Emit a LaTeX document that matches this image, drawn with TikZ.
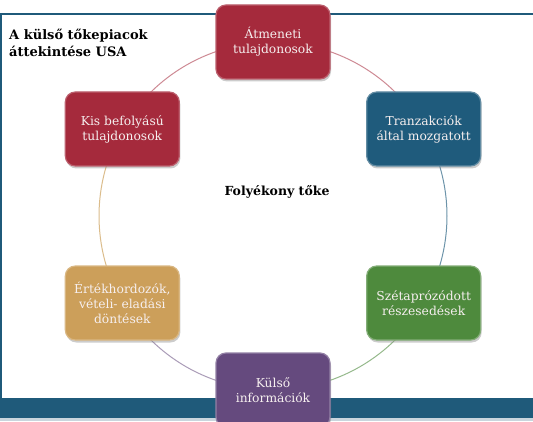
\documentclass[tikz,border=0pt]{standalone}
\usepackage{fontspec}
\setmainfont{DejaVu Serif}
\usetikzlibrary{shadows,calc}
\definecolor{frameblue}{HTML}{1F5A7A}
\definecolor{stripc}{HTML}{C9D5DD}
\definecolor{cred}{HTML}{A52A3C}
\definecolor{cblue}{HTML}{1F5B7C}
\definecolor{cgreen}{HTML}{4E8A3D}
\definecolor{cpurple}{HTML}{654A7E}
\definecolor{ctan}{HTML}{CC9F5A}
\definecolor{txtc}{HTML}{F6EFEF}
\tikzset{
  stepbox/.style={rounded corners=10pt, minimum width=114pt, minimum height=74pt,
    align=center, text=txtc, font=\fontsize{12.3}{15}\selectfont, line width=1.2pt,
    drop shadow={shadow xshift=1pt, shadow yshift=-2.5pt, opacity=0.4}},
  arcline/.style={line width=1pt},
}
\begin{document}
\begin{tikzpicture}[x=1pt,y=1pt]
\useasboundingbox (0,0) rectangle (533,421);
\fill[white] (0,0) rectangle (533,421);
% frame
\draw[frameblue, line width=1.4pt] (0,407) -- (533,407);
\draw[frameblue, line width=1.4pt] (1,407) -- (1,23);
\fill[frameblue] (0,3) rectangle (533,23.3);
\fill[stripc] (0,0) rectangle (533,3);
% circle
\coordinate (C) at (273,205);
\draw[arcline, cred!55!white] (C) ++(90:174) arc[start angle=90, end angle=30, radius=174];
\draw[arcline, cblue!65!white] (C) ++(30:174) arc[start angle=30, end angle=-30, radius=174];
\draw[arcline, cgreen!60!white] (C) ++(-30:174) arc[start angle=-30, end angle=-90, radius=174];
\draw[arcline, cpurple!55!white] (C) ++(-90:174) arc[start angle=-90, end angle=-150, radius=174];
\draw[arcline, ctan!70!white] (C) ++(210:174) arc[start angle=210, end angle=150, radius=174];
\draw[arcline, cred!55!white] (C) ++(150:174) arc[start angle=150, end angle=90, radius=174];
% nodes
\node[stepbox, fill=cred, draw=cred!75!white] (top) at ($(C)+(90:174)$) {Átmeneti\\tulajdonosok};
\node[stepbox, fill=cblue, draw=cblue!70!white] (tr) at ($(C)+(30:174)$) {Tranzakciók\\által mozgatott};
\node[stepbox, fill=cgreen, draw=cgreen!70!white] (br) at ($(C)+(-30:174)$) {Szétaprózódott\\részesedések};
\node[stepbox, fill=cpurple, draw=cpurple!70!white] (bot) at ($(C)+(-90:174)$) {Külső\\információk};
\node[stepbox, fill=ctan, draw=ctan!75!white] (bl) at ($(C)+(210:174)$) {Értékhordozók,\\vételi- eladási\\döntések};
\node[stepbox, fill=cred, draw=cred!75!white] (tl) at ($(C)+(150:174)$) {Kis befolyású\\tulajdonosok};
% texts
\node[anchor=north west, align=left, inner sep=0pt, font=\bfseries\fontsize{13}{17}\selectfont] (title) at (9,392) {A külső tőkepiacok\\áttekintése USA};
\node[font=\bfseries\fontsize{12.5}{15}\selectfont, inner sep=0pt] (center) at (277,229) {Folyékony tőke};
\end{tikzpicture}
\end{document}
